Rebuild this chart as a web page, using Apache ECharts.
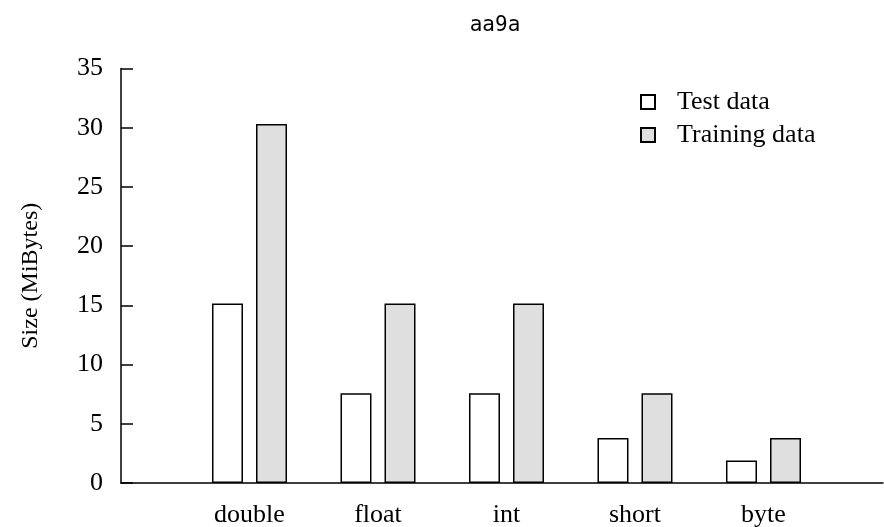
<!DOCTYPE html>
<html>
<head>
<meta charset="utf-8">
<script src="https://cdn.jsdelivr.net/npm/echarts@6/dist/echarts.min.js"></script>
<style>html,body{margin:0;padding:0;background:#fff}#c{width:884px;height:527px}</style>
</head>
<body>
<div id="c"></div>
<script>
const title = 'aa9a';
const categories = ['double', 'float', 'int', 'short', 'byte'];
const seriesNames = ['Test data', 'Training data'];
const testData = [15.16, 7.58, 7.58, 3.79, 1.9];
const trainingData = [30.32, 15.16, 15.16, 7.58, 3.79];
const yTicks = [0, 5, 10, 15, 20, 25, 30, 35];
const yName = 'Size (MiBytes)';

const serif = '"Liberation Serif", "Times New Roman", serif';
const chart = echarts.init(document.getElementById('c'), null, {renderer: 'canvas'});

function pts(arr) { return arr.map((v, i) => [i + 1, v]); }

chart.setOption({
  animation: false,
  backgroundColor: '#ffffff',
  title: {
    text: title, left: 490, top: 10, textAlign: 'center',
    textStyle: {fontFamily: '"DejaVu Sans Mono", monospace', fontSize: 21, fontWeight: 'normal', color: '#000'}
  },
  legend: {
    orient: 'vertical', left: 635, top: 84, itemWidth: 14, itemHeight: 14, itemGap: 7,
    icon: 'rect',
    data: seriesNames,
    textStyle: {fontFamily: serif, fontSize: 26, color: '#000', lineHeight: 25, padding: [0, 0, 0, 17]}
  },
  grid: {left: 121, right: 1, top: 68.5, bottom: 44, containLabel: false, outerBoundsMode: 'none'},
  xAxis: {
    type: 'value', min: 0, max: 5.93, interval: 1,
    axisLine: {show: true, lineStyle: {color: '#000', width: 1.5}},
    axisTick: {show: false}, splitLine: {show: false},
    axisLabel: {
      fontFamily: serif, fontSize: 26, color: '#000', margin: 19,
      formatter: v => (v >= 1 && v <= categories.length && Number.isInteger(v)) ? categories[v - 1] : ''
    }
  },
  yAxis: {
    type: 'value', min: yTicks[0], max: yTicks[yTicks.length - 1], interval: 5,
    name: yName, nameLocation: 'middle', nameGap: 78, nameRotate: 90,
    nameTextStyle: {fontFamily: serif, fontSize: 24, color: '#000'},
    axisLine: {show: true, lineStyle: {color: '#000', width: 1.5}},
    axisTick: {show: true, inside: true, length: 12, lineStyle: {color: '#000', width: 1.5}},
    splitLine: {show: false},
    axisLabel: {fontFamily: serif, fontSize: 26, color: '#000', margin: 18}
  },
  series: [
    {name: seriesNames[0], type: 'bar', data: pts(testData), barWidth: 31, barGap: '42%',
     itemStyle: {color: '#ffffff', borderColor: '#000', borderWidth: 1.5}},
    {name: seriesNames[1], type: 'bar', data: pts(trainingData), barWidth: 31, barGap: '42%',
     itemStyle: {color: '#dfdfdf', borderColor: '#000', borderWidth: 1.5}}
  ]
});
</script>
</body>
</html>
